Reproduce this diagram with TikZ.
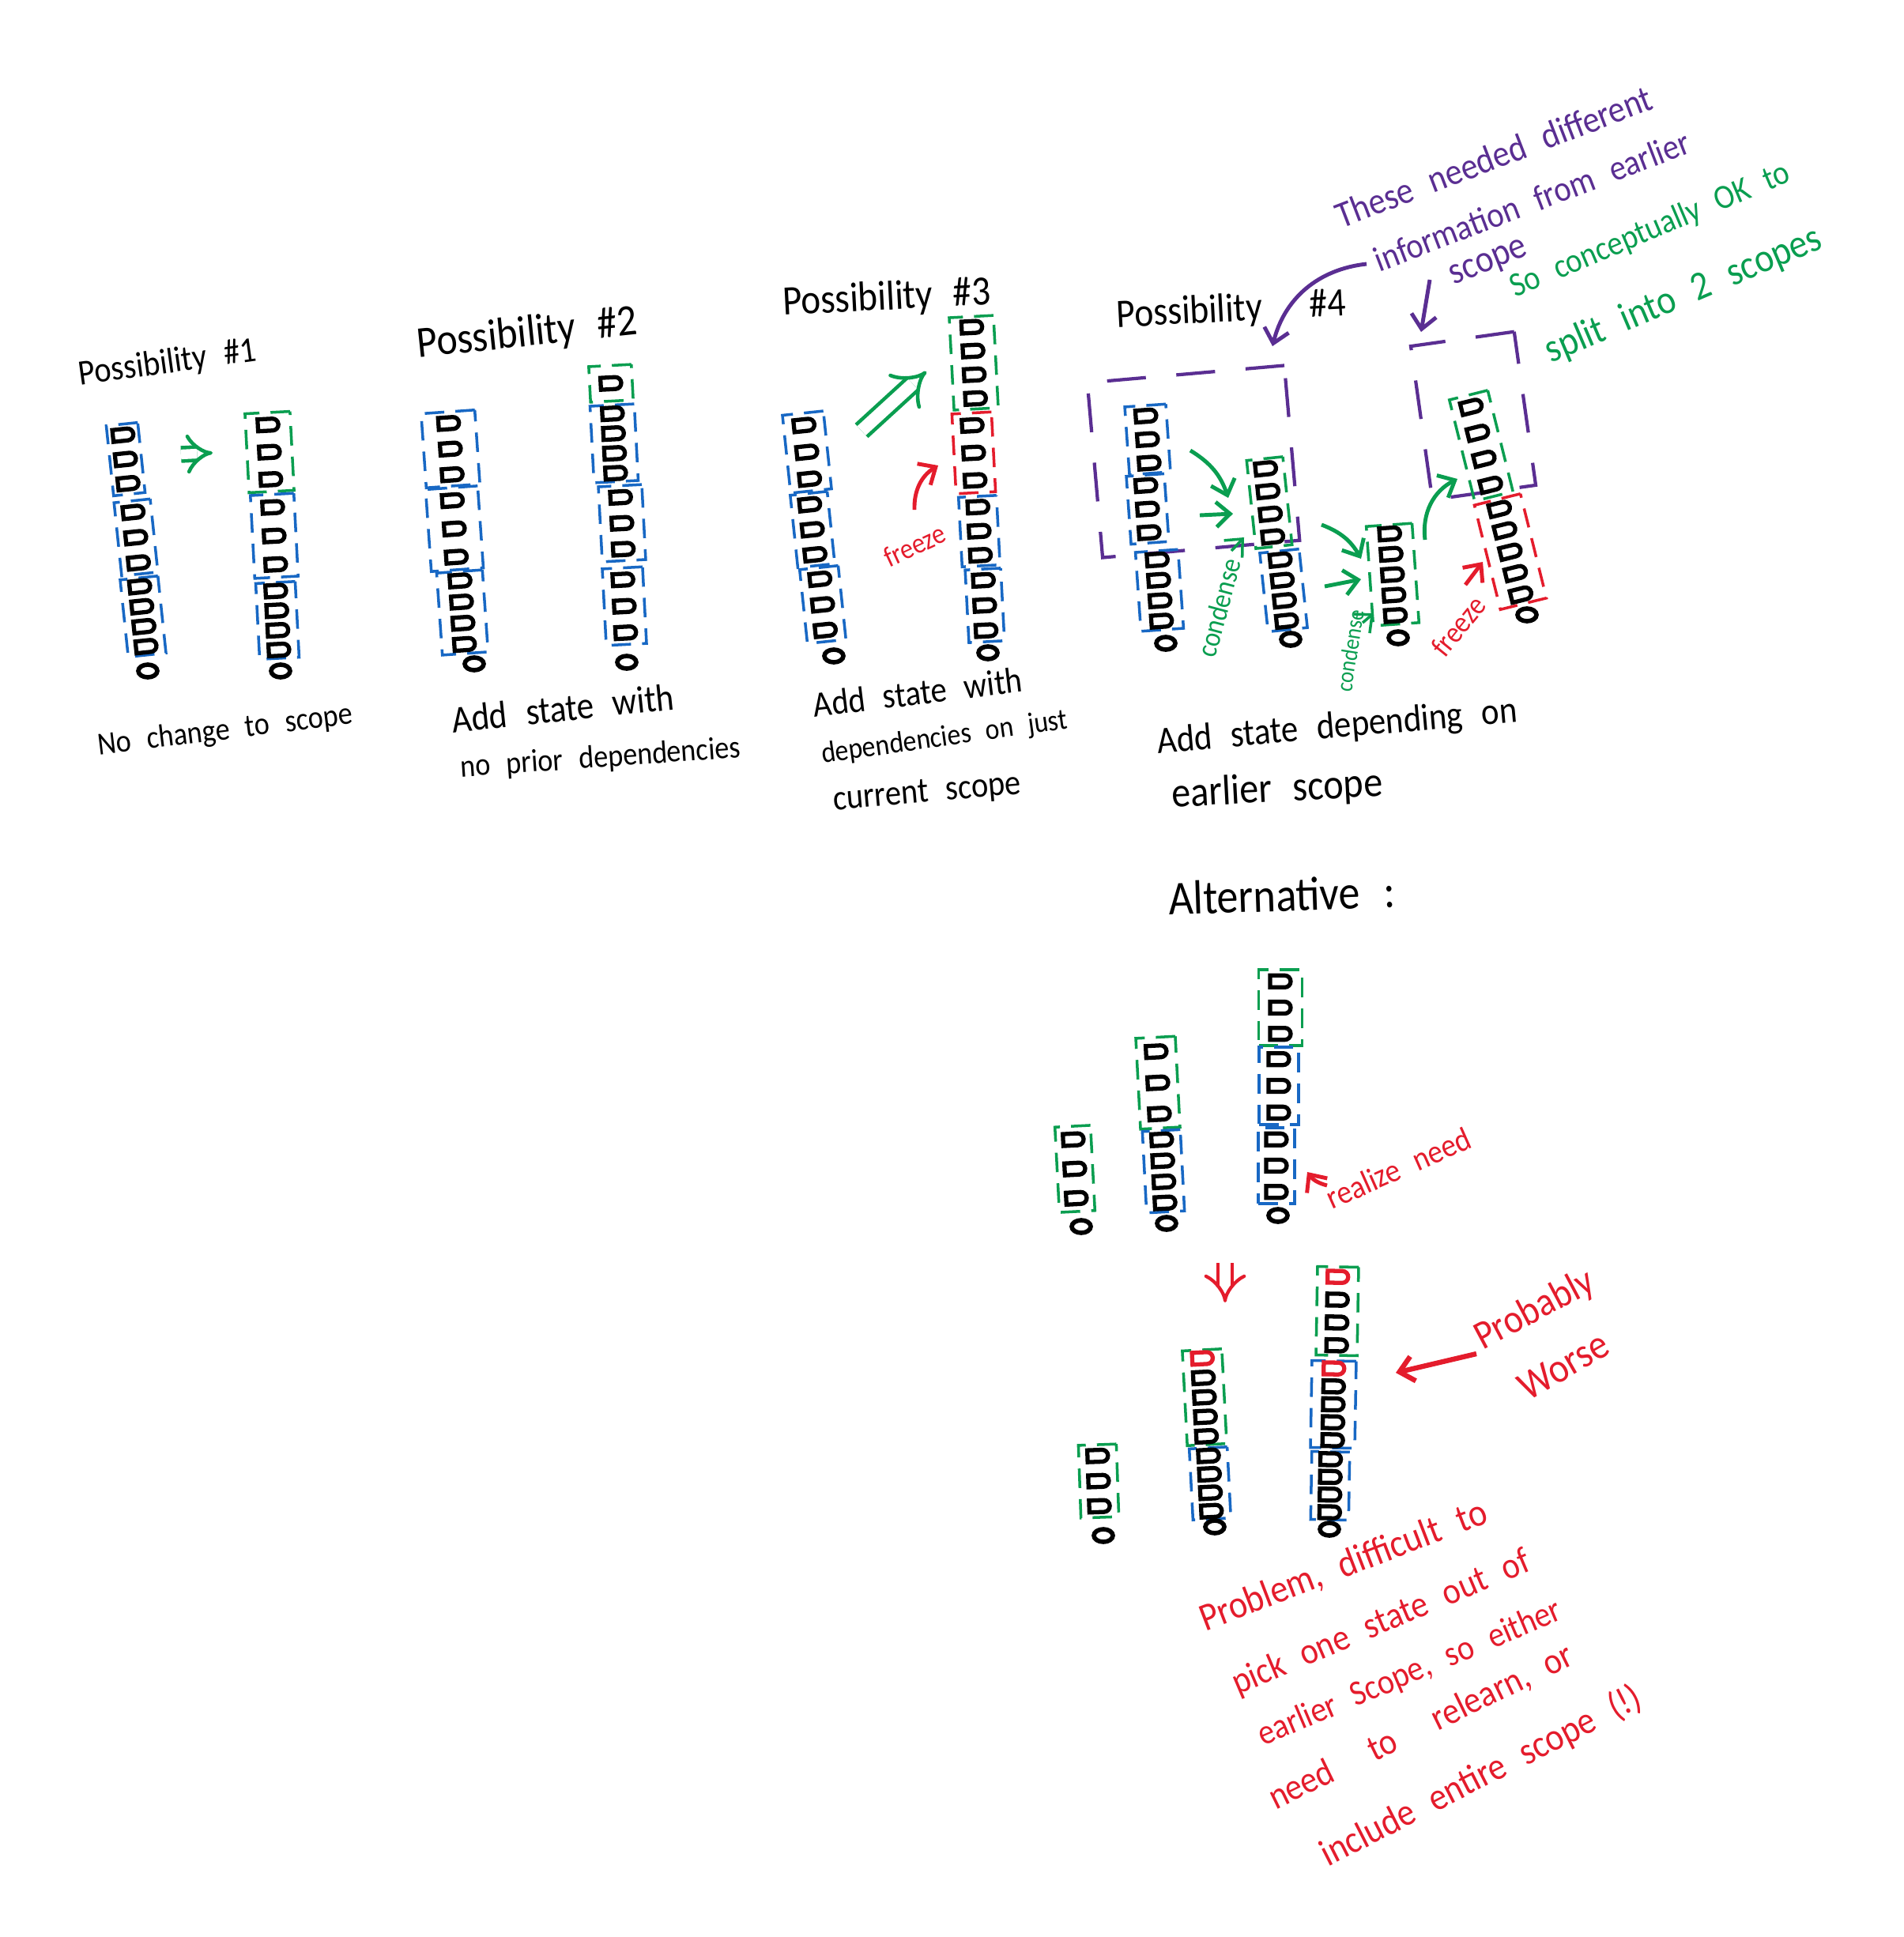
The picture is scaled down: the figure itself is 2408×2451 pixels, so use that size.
\documentclass[tikz,border=0pt]{standalone}
\usepackage{fontspec}
\setmainfont{Carlito}
\usetikzlibrary{arrows.meta,calc,shapes.geometric,shapes.misc}

\definecolor{scopeblue}{RGB}{24,104,196}
\definecolor{scopegreen}{RGB}{10,158,80}
\definecolor{freezered}{RGB}{228,28,44}
\definecolor{notepurple}{RGB}{90,46,146}

\newcommand{\widespace}{\spaceskip=0.55em\relax}

% one dashed scope box holding a column of states
% #1 name, #2 box style, #3 centre, #4 width, #5 height, #6 states, #7 tilt, #8 red states on top
\newcommand{\scopebox}[8]{%
  \node[#2, rotate=#7, minimum width={#4*0.01cm}, minimum height={#5*0.01cm}] (#1) at (#3) {};
  \foreach \k in {1,...,#6}{%
    \ifnum\k>#8 \def\statecol{black}\else\def\statecol{freezered}\fi
    \node[statecell, draw=\statecol, rotate=#7] at ($(#1.north)!{(\k-0.5)/#6}!(#1.south)$) {};
  }%
}

\begin{document}
\begin{tikzpicture}[
    x=0.01cm, y=-0.01cm,
    statecell/.style={
        draw,
        rounded rectangle,
        rounded rectangle west arc=none,
        line width=1.5pt,
        minimum width=0.26cm,
        minimum height=0.15cm,
        inner sep=0pt
    },
    zero/.style={
        draw,
        ellipse,
        line width=1.6pt,
        minimum width=0.24cm,
        minimum height=0.16cm,
        inner sep=0pt
    },
    bluebox/.style={draw=scopeblue, line width=1pt, dash pattern=on 7pt off 4pt},
    greenbox/.style={bluebox, draw=scopegreen},
    redbox/.style={bluebox, draw=freezered},
    purplebox/.style={draw=notepurple, line width=1.2pt, dash pattern=on 14pt off 11pt},
    hand/.style={font=\fontsize{#1}{#1}\selectfont\widespace, inner sep=0.5pt, yscale=1.12},
    greenarrow/.style={draw=scopegreen, line width=1.4pt, -{Straight Barb[length=5pt, width=9pt]}},
    redarrow/.style={greenarrow, draw=freezered},
    purplearrow/.style={greenarrow, draw=notepurple},
    implies/.style={double, double distance=3pt, line width=1.1pt, -{Implies}}
]

\fill[white] (0,0) rectangle (2408,2451);

% Possibility #1
\node[rotate=8, hand=11.5] (pos1) at (212,460) {Possibility \#1};
\scopebox{p1a}{bluebox}{159,581}{40}{89}{3}{6}{0}
\scopebox{p1b}{bluebox}{172,680}{46}{93}{3}{6}{0}
\scopebox{p1c}{bluebox}{181,780}{48}{98}{4}{6}{0}
\node[zero] (p1z) at (187,849) {};
\scopebox{p1d}{greenbox}{341,572}{57}{100}{3}{3}{0}
\scopebox{p1e}{bluebox}{347,678}{55}{105}{3}{3}{0}
\scopebox{p1f}{bluebox}{351,785}{50}{96}{4}{3}{0}
\node[zero] (p1y) at (355,849) {};
\draw[implies, draw=scopegreen, double distance=3.5pt, line width=1.3pt] ([shift={(70,-6)}]p1a.center) -- ([shift={(-72,1)}]p1d.center);
\node[rotate=7, hand=10.3] (cap1) at (285,925) {No change to scope};

% Possibility #2
\node[rotate=6, hand=14.2] (pos2) at (667,423) {Possibility \#2};
\scopebox{p2a}{bluebox}{570,568}{68}{94}{3}{4}{0}
\scopebox{p2b}{bluebox}{575,669}{66}{104}{3}{4}{0}
\scopebox{p2c}{bluebox}{585,775}{58}{104}{4}{4}{0}
\node[zero] (p2z) at (600,840) {};
\scopebox{p2d}{greenbox}{773,485}{54}{45}{1}{3}{0}
\scopebox{p2e}{bluebox}{777,561}{56}{97}{4}{3}{0}
\scopebox{p2f}{bluebox}{787,662}{55}{95}{3}{3}{0}
\scopebox{p2g}{bluebox}{790,767}{51}{97}{3}{3}{0}
\node[zero] (p2y) at (793,838) {};
\node[rotate=6, hand=12.3] (cap2a) at (712,896) {Add state with};
\node[rotate=4, hand=10.3] (cap2b) at (760,960) {no prior dependencies};

% Possibility #3
\node[rotate=3, hand=13.4] (pos3) at (1122,378) {Possibility \#3};
\scopebox{p3a}{bluebox}{1021,572}{52}{99}{3}{6}{0}
\scopebox{p3b}{bluebox}{1028,670}{47}{92}{3}{6}{0}
\scopebox{p3c}{bluebox}{1041,765}{49}{94}{3}{6}{0}
\node[zero] (p3z) at (1055,830) {};
\scopebox{p3d}{greenbox}{1232,459}{56}{117}{4}{3}{0}
\scopebox{p3e}{redbox}{1232,573}{50}{101}{3}{3}{0}
\scopebox{p3f}{bluebox}{1239,672}{48}{88}{3}{3}{0}
\scopebox{p3g}{bluebox}{1246,766}{45}{92}{3}{3}{0}
\node[zero] (p3y) at (1250,826) {};
\node[rotate=25, hand=9.3, text=freezered] (f3) at (1157,690) {freeze};
\draw[implies, draw=scopegreen, double distance=4.5pt, line width=1.3pt] ([shift={(69,-27)}]p3a.center) -- ([shift={(-60,11)}]p3d.center);
\draw[redarrow] ([shift={(0,-45)}]f3.center) to[bend left=30] ([shift={(-45,16)}]p3e.center);
\node[rotate=7, hand=11.6] (cap3a) at (1161,876) {Add state with};
\node[rotate=8, hand=9.6] (cap3b) at (1195,934) {dependencies on just};
\node[rotate=5, hand=11.5] (cap3c) at (1173,1004) {current scope};

% Possibility #4
\node[rotate=3, hand=13] (pos4) at (1558,393) {Possibility\hspace{0.6cm}\#4};
\node[purplebox, rotate=5, minimum width=2.5cm, minimum height=2.22cm] (p4k1) at (1510,584) {};
\node[purplebox, rotate=8, minimum width=1.32cm, minimum height=1.96cm] (p4k2) at (1864,526) {};
\scopebox{p4a}{bluebox}{1452,556}{52}{86}{3}{4}{0}
\scopebox{p4b}{bluebox}{1452,644}{48}{86}{3}{4}{0}
\scopebox{p4c}{bluebox}{1467,747}{54}{100}{4}{4}{0}
\node[zero] (p4z) at (1475,814) {};
\scopebox{p4d}{greenbox}{1606,636}{46}{112}{4}{6}{0}
\scopebox{p4e}{bluebox}{1624,747}{50}{100}{4}{6}{0}
\node[zero] (p4y) at (1633,809) {};
\scopebox{p4f}{greenbox}{1762,727}{58}{126}{5}{4}{0}
\node[zero] (p4x) at (1769,807) {};
\scopebox{p4g}{greenbox}{1874,564}{50}{132}{4}{14}{0}
\scopebox{p4h}{redbox}{1911,698}{60}{136}{5}{14}{0}
\node[zero] (p4w) at (1932,778) {};
\node[rotate=75, hand=9.3, text=scopegreen] (c4a) at (1542,769) {condense};
\node[rotate=81, hand=7.6, text=scopegreen] (c4b) at (1708,823) {condense};
\node[rotate=51, hand=9.7, text=freezered] (f4) at (1845,792) {freeze};
\draw[greenarrow] ([shift={(54,14)}]p4a.center) to[bend left=20] ([shift={(-52,-6)}]p4d.center);
\draw[greenarrow] ([shift={(66,8)}]p4b.center) -- ([shift={(-46,14)}]p4d.center);
\draw[greenarrow, line width=1pt] ([shift={(16,-72)}]c4a.center) -- ([shift={(-32,44)}]p4d.center);
\draw[greenarrow] ([shift={(66,28)}]p4d.center) to[bend left=20] ([shift={(-40,-20)}]p4f.center);
\draw[greenarrow] ([shift={(52,-5)}]p4e.center) -- ([shift={(-40,6)}]p4f.center);
\draw[greenarrow, line width=1pt] ([shift={(16,-35)}]c4b.center) -- ([shift={(-24,49)}]p4f.center);
\draw[greenarrow] ([shift={(41,-44)}]p4f.center) to[bend left=35] ([shift={(-30,42)}]p4g.center);
\draw[redarrow] ([shift={(9,-52)}]f4.center) -- ([shift={(-35,13)}]p4h.center);
\node[rotate=5, hand=12.2] (cap4a) at (1692,921) {Add state depending on};
\node[rotate=3, hand=13.7] (cap4b) at (1616,1000) {earlier scope};

% notes on the split
\node[rotate=21, hand=12, text=notepurple] (n1) at (1890,198) {These needed different};
\node[rotate=21, hand=11.5, text=notepurple] (n2) at (1938,254) {information from earlier};
\node[rotate=22, hand=12.3, text=notepurple] (n3) at (1884,334) {scope};
\node[rotate=23, hand=11, text=scopegreen] (g1) at (2088,292) {So conceptually OK to};
\node[rotate=23, hand=13, text=scopegreen] (g2) at (2130,374) {split into 2 scopes};
\draw[purplearrow] ([shift={(-209,80)}]n2.center) to[bend right=35] ([shift={(100,-146)}]p4k1.center);
\draw[purplearrow] ([shift={(-75,20)}]n3.center) -- ([shift={(-66,-106)}]p4k2.center);

% Alternative
\node[rotate=2, hand=15.4] (alt) at (1622,1132) {Alternative :};
\scopebox{a1}{greenbox}{1360,1479}{45}{108}{3}{3}{0}
\node[zero] (az1) at (1368,1552) {};
\scopebox{a2}{greenbox}{1465,1370}{50}{115}{3}{3}{0}
\scopebox{a3}{bluebox}{1472,1482}{48}{103}{4}{3}{0}
\node[zero] (az2) at (1476,1548) {};
\scopebox{a4}{greenbox}{1620,1275}{55}{96}{3}{0}{0}
\scopebox{a5}{bluebox}{1618,1374}{50}{98}{3}{0}{0}
\scopebox{a6}{bluebox}{1615,1475}{46}{96}{3}{0}{0}
\node[zero] (az3) at (1617,1538) {};
\node[rotate=24, hand=10.6, text=freezered] (rn) at (1769,1478) {realize need};
\draw[redarrow] ([shift={(-90,22)}]rn.center) to[bend left=20] ([shift={(39,8)}]a6.center);

\scopebox{b1}{greenbox}{1390,1874}{48}{92}{3}{2}{0}
\node[zero] (bz1) at (1396,1943) {};
\scopebox{b2}{greenbox}{1524,1768}{50}{120}{5}{3}{1}
\scopebox{b3}{bluebox}{1531,1877}{48}{90}{4}{3}{0}
\node[zero] (bz2) at (1537,1932) {};
\scopebox{b4}{greenbox}{1692,1659}{52}{112}{4}{-1}{1}
\scopebox{b5}{bluebox}{1687,1777}{56}{110}{5}{-1}{1}
\scopebox{b6}{bluebox}{1683,1880}{48}{86}{4}{-1}{0}
\node[zero] (bz3) at (1682,1935) {};
\draw[implies, draw=freezered, double distance=4pt, line width=1.2pt] ([shift={(74,50)}]az2.center) -- ([shift={(26,-120)}]b2.center);
\node[rotate=28, hand=13, text=freezered] (pb) at (1942,1658) {Probably};
\node[rotate=30, hand=13.4, text=freezered] (pw) at (1978,1728) {Worse};
\draw[redarrow, line width=1.8pt] ([shift={(-74,55)}]pb.center) -- ([shift={(79,-40)}]b5.center);

% the problem
\node[rotate=21, hand=12.6, text=freezered] (r1) at (1700,1982) {Problem, difficult to};
\node[rotate=23, hand=12, text=freezered] (r2) at (1748,2054) {pick one state out of};
\node[rotate=23, hand=11.4, text=freezered] (r3) at (1784,2118) {earlier Scope, so either};
\node[rotate=26, hand=12, text=freezered] (r4) at (1798,2186) {need\hspace{0.3cm} to\hspace{0.3cm} relearn, or};
\node[rotate=27, hand=12.4, text=freezered] (r5) at (1874,2248) {include entire scope (!)};

\end{tikzpicture}
\end{document}
